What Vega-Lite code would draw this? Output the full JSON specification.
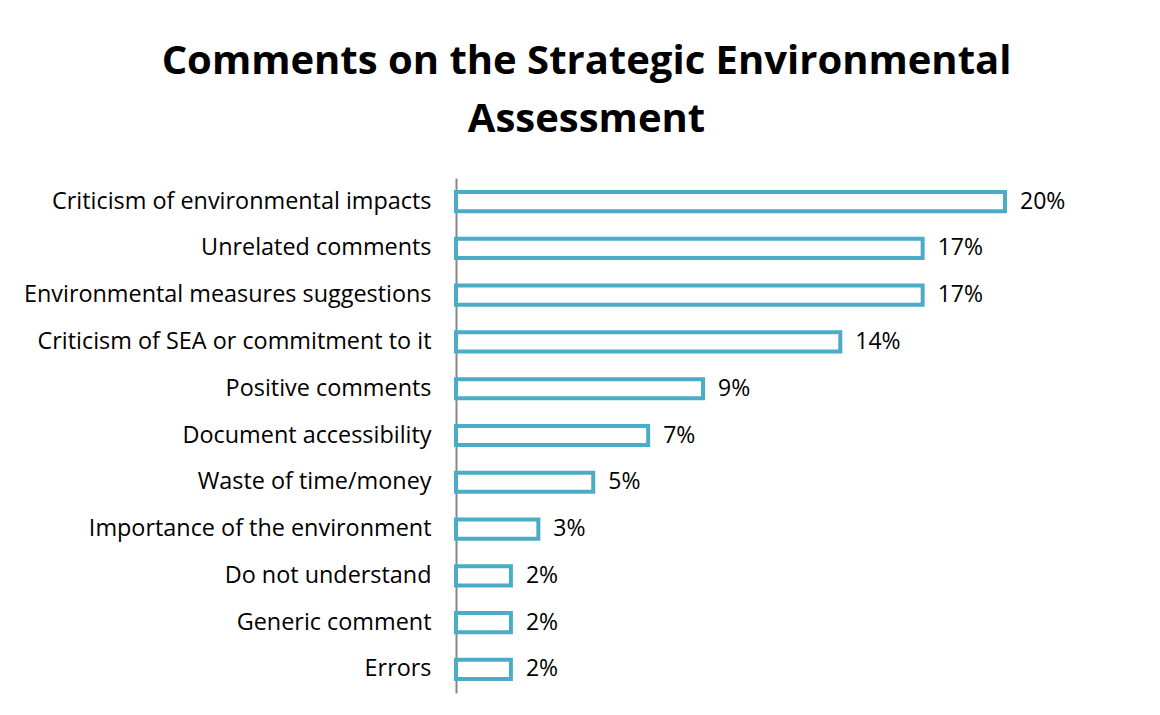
{
  "$schema": "https://vega.github.io/schema/vega-lite/v6.json",
  "width": 549,
  "height": 515,
  "autosize": {"type": "none"},
  "padding": {"left": 456, "top": 178, "right": 155, "bottom": 22},
  "background": "white",
  "title": {
    "text": ["Comments on the Strategic Environmental", "Assessment"],
    "font": "Open Sans",
    "fontSize": 40,
    "fontWeight": "bold",
    "color": "black",
    "anchor": "middle",
    "dx": -144,
    "lineHeight": 58,
    "offset": 38
  },
  "data": {
    "values": [
      {"category": "Criticism of environmental impacts", "share": 0.20},
      {"category": "Unrelated comments", "share": 0.17},
      {"category": "Environmental measures suggestions", "share": 0.17},
      {"category": "Criticism of SEA or commitment to it", "share": 0.14},
      {"category": "Positive comments", "share": 0.09},
      {"category": "Document accessibility", "share": 0.07},
      {"category": "Waste of time/money", "share": 0.05},
      {"category": "Importance of the environment", "share": 0.03},
      {"category": "Do not understand", "share": 0.02},
      {"category": "Generic comment", "share": 0.02},
      {"category": "Errors", "share": 0.02}
    ]
  },
  "encoding": {
    "y": {
      "field": "category",
      "type": "nominal",
      "sort": null,
      "scale": {"paddingInner": 0.59, "paddingOuter": 0.3},
      "axis": {
        "title": null,
        "ticks": false,
        "grid": false,
        "domainColor": "#888888",
        "domainWidth": 2,
        "labelFont": "Open Sans",
        "labelFontSize": 23.4,
        "labelColor": "black",
        "labelPadding": 25,
        "labelLimit": 500
      }
    },
    "x": {
      "field": "share",
      "type": "quantitative",
      "scale": {"domain": [0, 0.2], "nice": false},
      "axis": null
    }
  },
  "layer": [
    {
      "mark": {"type": "bar", "fill": "white", "stroke": "#4bacc6", "strokeWidth": 4}
    },
    {
      "mark": {"type": "text", "align": "left", "baseline": "middle", "dx": 15, "font": "Open Sans", "fontSize": 23, "color": "black"},
      "encoding": {"text": {"field": "share", "type": "quantitative", "format": ".0%"}}
    }
  ],
  "config": {"view": {"stroke": null}}
}
